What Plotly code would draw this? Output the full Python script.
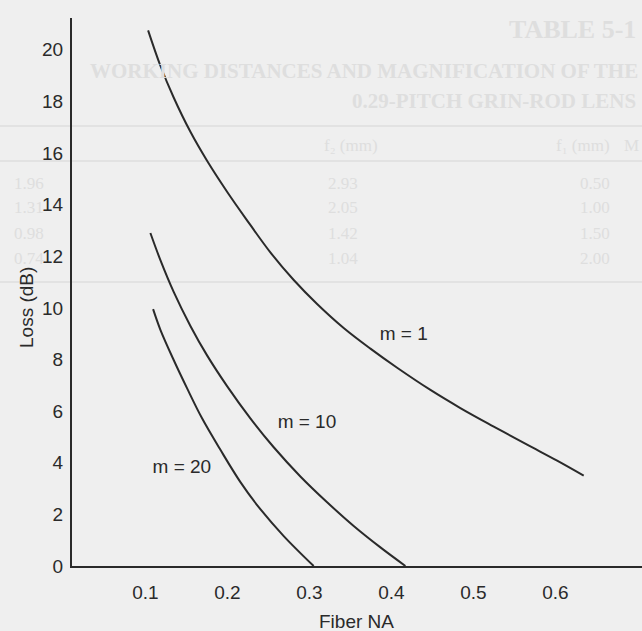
import plotly.graph_objects as go

# ---- data ----
m1_na = [0.1033, 0.1183, 0.1345, 0.1549, 0.1752, 0.1996, 0.2220, 0.2524, 0.2809, 0.3094,
         0.3418, 0.3744, 0.4070, 0.4476, 0.4841, 0.5248, 0.5655, 0.6021, 0.6345]
m1_loss = [20.75, 19.38, 18.15, 16.82, 15.70, 14.50, 13.48, 12.15, 11.08, 10.15,
           9.22, 8.42, 7.68, 6.82, 6.12, 5.40, 4.70, 4.08, 3.50]

m10_na = [0.1061, 0.1183, 0.1345, 0.1549, 0.1752, 0.1996, 0.2280, 0.2565, 0.2890, 0.3216,
          0.3540, 0.3866, 0.4171]
m10_loss = [12.90, 11.85, 10.62, 9.30, 8.16, 6.97, 5.72, 4.60, 3.47, 2.47, 1.55, 0.72, 0.0]

m20_na = [0.1094, 0.1183, 0.1345, 0.1509, 0.1691, 0.1915, 0.2159, 0.2402, 0.2687, 0.3052]
m20_loss = [9.95, 9.15, 7.98, 6.88, 5.72, 4.50, 3.25, 2.20, 1.16, 0.0]

curve_labels = ["m = 1", "m = 10", "m = 20"]
label_na = [0.415, 0.297, 0.1445]
label_loss = [8.95, 5.53, 3.8]

x_ticks = [0.1, 0.2, 0.3, 0.4, 0.5, 0.6]
x_ticktext = ["0.1", "0.2", "0.3", "0.4", "0.5", "0.6"]
y_ticks = [0, 2, 4, 6, 8, 10, 12, 14, 16, 18, 20]
y_ticktext = ["0", "2", "4", "6", "8", "10", "12", "14", "16", "18", "20"]

x_title = "Fiber NA"
y_title = "Loss (dB)"

# faint show-through text from the reverse page of the scan
ghost_title = "TABLE 5-1"
ghost_sub1 = "WORKING DISTANCES AND MAGNIFICATION OF THE"
ghost_sub2 = "0.29-PITCH GRIN-ROD LENS"
ghost_headers = ["f₁ (mm)", "f₂ (mm)", "M"]
ghost_f1 = ["0.50", "1.00", "1.50", "2.00"]
ghost_f2 = ["2.93", "2.05", "1.42", "1.04"]
ghost_m = ["1.96", "1.31", "0.98", "0.74"]

INK = "#2a2a2a"
BG = "#efefef"
GHOST = "#dedede"
FONT = "Liberation Sans, Arial, sans-serif"
SERIF = "Liberation Serif, DejaVu Serif, serif"

W, H = 642, 631
L, R, T, B = 72, 0, 18, 65
pw, ph = W - L - R, H - T - B

fig = go.Figure()
for xs, ys in [(m1_na, m1_loss), (m10_na, m10_loss), (m20_na, m20_loss)]:
    fig.add_trace(go.Scatter(x=xs, y=ys, mode="lines",
                             line=dict(color=INK, width=2, shape="spline", smoothing=1.0),
                             showlegend=False, hoverinfo="skip"))

fig.add_trace(go.Scatter(x=label_na, y=label_loss, mode="text", text=curve_labels,
                         textfont=dict(family=FONT, size=19, color=INK),
                         textposition="middle center", showlegend=False, hoverinfo="skip"))


def px(xp):
    return (xp - L) / pw


def py(yp):
    return (H - B - yp) / ph


annotations = []
# axis titles
annotations.append(dict(text=x_title, xref="paper", yref="paper", x=px(356), y=py(621),
                        xanchor="center", yanchor="middle",
                        showarrow=False, font=dict(family=FONT, size=19, color=INK)))
annotations.append(dict(text=y_title, xref="paper", yref="paper", x=px(26), y=py(308),
                        xanchor="center", yanchor="middle", textangle=-90,
                        showarrow=False, font=dict(family=FONT, size=19, color=INK)))


def ghost(text, x, y, size, anchor="center", bold=True):
    annotations.append(dict(text=("<b>%s</b>" % text) if bold else text, xref="paper", yref="paper",
                            x=px(x), y=py(y), xanchor=anchor, yanchor="middle", showarrow=False,
                            font=dict(family=SERIF, size=size, color=GHOST)))


ghost(ghost_title, 638, 30, 26, anchor="right")
ghost(ghost_sub1, 640, 71, 21, anchor="right")
ghost(ghost_sub2, 638, 101, 21, anchor="right")
ghost(ghost_headers[0], 612, 145, 17, anchor="right", bold=False)
ghost(ghost_headers[1], 380, 145, 17, anchor="right", bold=False)
ghost(ghost_headers[2], 641, 145, 17, anchor="right", bold=False)
for i in range(4):
    yy = 183 + i * 25
    ghost(ghost_f1[i], 612, yy, 17, anchor="right", bold=False)
    ghost(ghost_f2[i], 360, yy, 17, anchor="right", bold=False)
    ghost(ghost_m[i], 46, yy, 17, anchor="right", bold=False)

shapes = []
for yl in [126, 161, 282]:
    shapes.append(dict(type="line", xref="paper", yref="paper", x0=px(0), x1=px(642),
                       y0=py(yl), y1=py(yl), line=dict(color=GHOST, width=1.5), layer="below"))

fig.update_layout(
    width=W, height=H,
    margin=dict(l=L, r=R, t=T, b=B),
    paper_bgcolor=BG, plot_bgcolor=BG,
    annotations=annotations, shapes=shapes,
    xaxis=dict(range=[0.0105, 0.7056], tickvals=x_ticks, ticktext=x_ticktext,
               showgrid=False, zeroline=False, showline=True, linecolor=INK, linewidth=2,
               ticks="", ticklabelstandoff=8,
               tickfont=dict(family=FONT, size=19, color=INK)),
    yaxis=dict(range=[0, 21.23], tickvals=y_ticks, ticktext=y_ticktext,
               showgrid=False, zeroline=False, showline=True, linecolor=INK, linewidth=2,
               ticks="", ticklabelstandoff=3,
               tickfont=dict(family=FONT, size=19, color=INK)),
)

fig.write_html("out.html", config={"displayModeBar": False},
               post_script="document.body.style.margin='0';document.body.style.background='%s';" % BG)
